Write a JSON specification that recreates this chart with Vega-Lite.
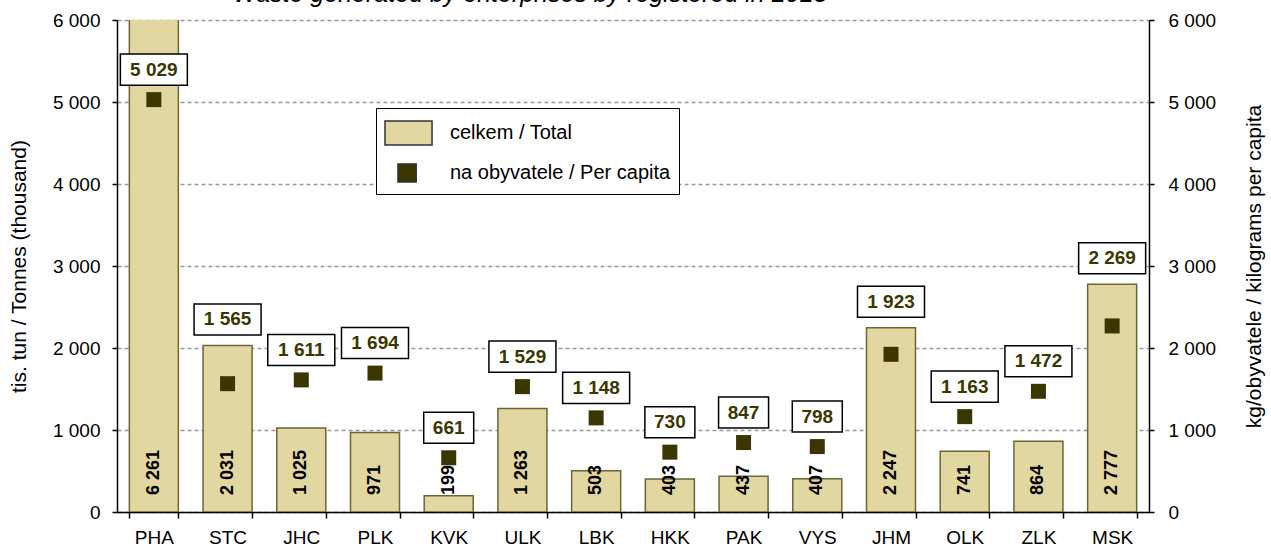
{
  "$schema": "https://vega.github.io/schema/vega-lite/v6.json",
  "width": 1032,
  "height": 492,
  "autosize": {"type": "none"},
  "padding": {"left": 117, "top": 20, "right": 122, "bottom": 44},
  "background": "white",
  "title": {
    "text": "Waste generated  by enterprises  by registered  in 2013",
    "anchor": "start",
    "frame": "group",
    "dx": 116,
    "dy": 16,
    "offset": 0,
    "baseline": "alphabetic",
    "fontSize": 25,
    "fontStyle": "italic",
    "fontWeight": "normal",
    "font": "Liberation Sans",
    "color": "black"
  },
  "data": {
    "values": [
      {"region": "PHA", "total": 6261, "pc": 5029},
      {"region": "STC", "total": 2031, "pc": 1565},
      {"region": "JHC", "total": 1025, "pc": 1611},
      {"region": "PLK", "total": 971, "pc": 1694},
      {"region": "KVK", "total": 199, "pc": 661},
      {"region": "ULK", "total": 1263, "pc": 1529},
      {"region": "LBK", "total": 503, "pc": 1148},
      {"region": "HKK", "total": 403, "pc": 730},
      {"region": "PAK", "total": 437, "pc": 847},
      {"region": "VYS", "total": 407, "pc": 798},
      {"region": "JHM", "total": 2247, "pc": 1923},
      {"region": "OLK", "total": 741, "pc": 1163},
      {"region": "ZLK", "total": 864, "pc": 1472},
      {"region": "MSK", "total": 2777, "pc": 2269}
    ]
  },
  "encoding": {
    "x": {
      "field": "region",
      "type": "nominal",
      "sort": null,
      "title": null,
      "scale": {"paddingInner": 0.335, "paddingOuter": 0.1675},
      "axis": {
        "labelAngle": 0,
        "tickBand": "extent",
        "tickSize": 6,
        "tickColor": "black",
        "tickWidth": 1.5,
        "domainColor": "black",
        "domainWidth": 1.5,
        "labelFontSize": 19,
        "labelPadding": 10,
        "labelColor": "black",
        "labelFont": "Liberation Sans",
        "grid": false
      }
    }
  },
  "layer": [
    {
      "layer": [
        {
          "mark": {"type": "bar", "clip": true, "stroke": "#6B6635", "strokeWidth": 1.5},
          "encoding": {
            "y": {
              "field": "total",
              "type": "quantitative",
              "title": "tis. tun / Tonnes (thousand)",
              "scale": {"domain": [0, 6000]},
              "axis": {
                "orient": "left",
                "values": [0, 1000, 2000, 3000, 4000, 5000, 6000],
                "format": ",d",
                "grid": true,
                "gridColor": "#999999",
                "gridDash": [4, 3],
                "gridWidth": 1.5,
                "domainColor": "black",
                "domainWidth": 1.5,
                "tickColor": "black",
                "tickWidth": 1.5,
                "tickSize": 5,
                "labelPadding": 12,
                "labelFontSize": 19,
                "labelColor": "black",
                "labelFont": "Liberation Sans",
                "titleFont": "Liberation Sans",
                "titleFontSize": 21,
                "titleFontWeight": "normal",
                "titleColor": "black",
                "titlePadding": 23
              }
            },
            "color": {
              "datum": "celkem / Total",
              "scale": {
                "domain": ["celkem / Total", "na obyvatele / Per capita"],
                "range": ["#E2D7A1", "#3B3600"]
              },
              "legend": {
                "orient": "none",
                "legendX": 259,
                "legendY": 88,
                "title": null,
                "padding": 8,
                "fillColor": "white",
                "strokeColor": "black",
                "symbolSize": 1024,
                "rowPadding": 8,
                "labelOffset": 32,
                "labelFontSize": 20,
                "labelLimit": 500,
                "labelFont": "Liberation Sans",
                "labelColor": "black",
                "symbolStrokeColor": "#333333",
                "symbolStrokeWidth": 1.5,
                "encode": {
                  "symbols": {
                    "update": {
                      "shape": {"signal": "datum.value === 'celkem / Total' ? 'M-1,-0.75H1.94V0.75H-1Z' : 'M-0.19,-0.57H0.95V0.57H-0.19Z'"},
                      "fill": {"signal": "datum.value === 'celkem / Total' ? '#C9C09A' : '#4A4630'"},
                      "stroke": {"value": "#333333"},
                      "strokeWidth": {"value": 1.5}
                    }
                  }
                }
              }
            }
          }
        },
        {
          "mark": {
            "type": "text",
            "angle": 270,
            "align": "left",
            "baseline": "middle",
            "dx": 17,
            "fontWeight": "bold",
            "fontSize": 18,
            "font": "Liberation Sans",
            "color": "black"
          },
          "encoding": {
            "y": {"datum": 0, "type": "quantitative", "scale": {"domain": [0, 6000]}},
            "text": {"field": "total", "type": "quantitative", "format": ",d"}
          }
        }
      ]
    },
    {
      "layer": [
        {
          "mark": {"type": "point", "shape": "square", "size": 225, "filled": true, "opacity": 1},
          "encoding": {
            "y": {
              "field": "pc",
              "type": "quantitative",
              "title": "kg/obyvatele / kilograms per capita",
              "scale": {"domain": [0, 6000]},
              "axis": {
                "orient": "right",
                "values": [0, 1000, 2000, 3000, 4000, 5000, 6000],
                "format": ",d",
                "grid": false,
                "domainColor": "black",
                "domainWidth": 1.5,
                "tickColor": "black",
                "tickWidth": 1.5,
                "tickSize": 5,
                "labelPadding": 14,
                "labelFontSize": 19,
                "labelColor": "black",
                "labelFont": "Liberation Sans",
                "titleFont": "Liberation Sans",
                "titleFontSize": 21,
                "titleFontWeight": "normal",
                "titleColor": "black",
                "titleAngle": 270,
                "titlePadding": 49
              }
            },
            "color": {"datum": "na obyvatele / Per capita"}
          }
        },
        {
          "transform": [{"filter": "datum.total > datum.pc && datum.total < 6000"}],
          "mark": {"type": "point", "filled": true, "fill": "white", "stroke": "black", "strokeWidth": 1.5, "opacity": 1, "yOffset": -26},
          "encoding": {
            "y": {"field": "total", "type": "quantitative", "title": "kg/obyvatele / kilograms per capita", "scale": {"domain": [0, 6000]}},
            "shape": {"condition": {"test": "datum.pc < 1000", "value": "M-1,-0.62H1V0.62H-1Z"}, "value": "M-1,-0.463H1V0.463H-1Z"},
            "size": {"condition": {"test": "datum.pc < 1000", "value": 2500}, "value": 4489}
          }
        },
        {
          "transform": [{"filter": "!(datum.total > datum.pc && datum.total < 6000)"}],
          "mark": {"type": "point", "filled": true, "fill": "white", "stroke": "black", "strokeWidth": 1.5, "opacity": 1, "yOffset": -30},
          "encoding": {
            "y": {"field": "pc", "type": "quantitative", "title": "kg/obyvatele / kilograms per capita", "scale": {"domain": [0, 6000]}},
            "shape": {"condition": {"test": "datum.pc < 1000", "value": "M-1,-0.62H1V0.62H-1Z"}, "value": "M-1,-0.463H1V0.463H-1Z"},
            "size": {"condition": {"test": "datum.pc < 1000", "value": 2500}, "value": 4489}
          }
        },
        {
          "transform": [{"filter": "datum.total > datum.pc && datum.total < 6000"}],
          "mark": {"type": "text", "align": "center", "baseline": "middle", "yOffset": -26, "fontWeight": "bold", "fontSize": 19, "font": "Liberation Sans", "color": "#3B3700"},
          "encoding": {
            "y": {"field": "total", "type": "quantitative", "title": "kg/obyvatele / kilograms per capita", "scale": {"domain": [0, 6000]}},
            "text": {"field": "pc", "type": "quantitative", "format": ",d"}
          }
        },
        {
          "transform": [{"filter": "!(datum.total > datum.pc && datum.total < 6000)"}],
          "mark": {"type": "text", "align": "center", "baseline": "middle", "yOffset": -30, "fontWeight": "bold", "fontSize": 19, "font": "Liberation Sans", "color": "#3B3700"},
          "encoding": {
            "y": {"field": "pc", "type": "quantitative", "title": "kg/obyvatele / kilograms per capita", "scale": {"domain": [0, 6000]}},
            "text": {"field": "pc", "type": "quantitative", "format": ",d"}
          }
        }
      ]
    }
  ],
  "resolve": {"scale": {"y": "independent"}},
  "config": {
    "view": {"stroke": null},
    "locale": {"number": {"decimal": ",", "thousands": " ", "grouping": [3], "currency": ["", ""]}},
    "font": "Liberation Sans"
  }
}
